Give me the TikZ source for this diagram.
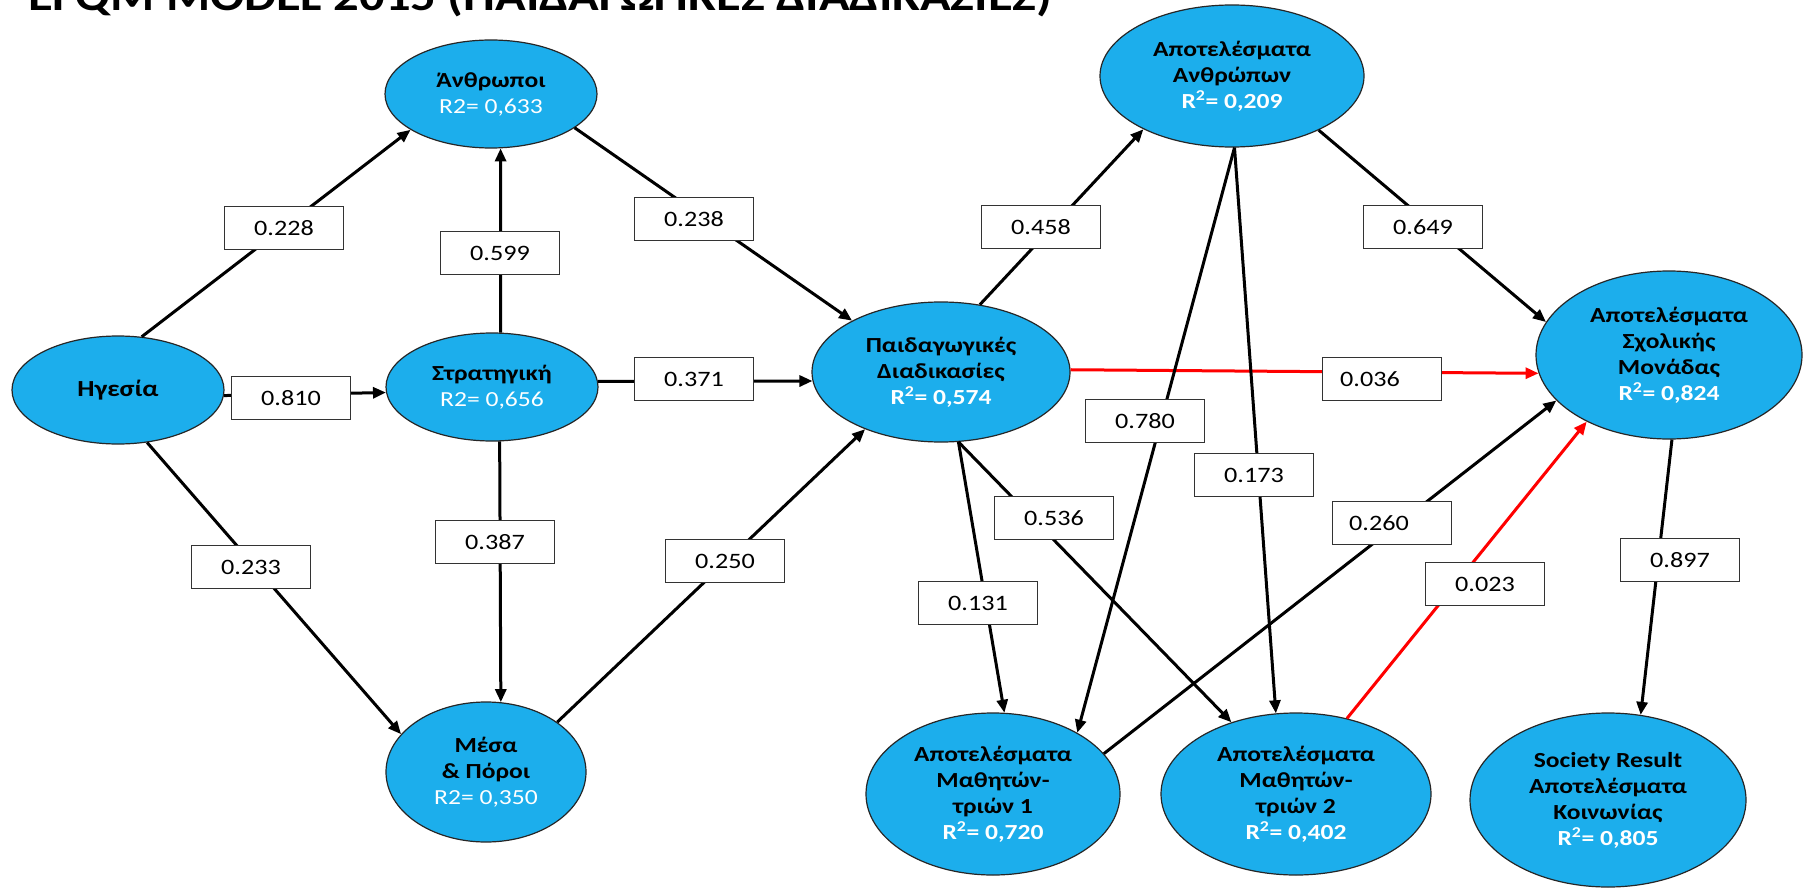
\documentclass[tikz,border=0pt]{standalone}
\usepackage{fontspec}
\setmainfont{Carlito}[FakeStretch=1.19]
\usetikzlibrary{arrows.meta,shapes.geometric}
\definecolor{nodeblue}{RGB}{28,174,236}
\definecolor{edgered}{RGB}{255,0,0}
\newcommand{\wtxt}[1]{\textcolor{white}{#1}}
\begin{document}
\begin{tikzpicture}[x=1pt,y=-1pt,
  cons/.style={ellipse, draw=black!85, line width=1.2pt, fill=nodeblue, inner sep=0pt, align=center, font=\fontsize{21.5}{26}\selectfont},
  lbl/.style={rectangle, draw=black!80, line width=1.5pt, fill=white, minimum width=119pt, minimum height=43pt, inner sep=0pt, font=\fontsize{22}{26}\selectfont},
  conn/.style={draw=black, line width=3pt, -{Triangle[length=13pt,width=11pt]}},
  redconn/.style={conn, draw=edgered, -{Triangle[length=13pt,width=11pt,fill=edgered]}}
]
\useasboundingbox (0,0) rectangle (1807,888);
\fill[white] (0,0) rectangle (1807,888);
\clip (0,0) rectangle (1807,888);

\node[anchor=base west, inner sep=0pt, font=\fontsize{42.5}{50}\selectfont\bfseries] (title) at (28,10.5) {EFQM MODEL 2015 (ΠΑΙΔΑΓΩΓΙΚΕΣ ΔΙΑΔΙΚΑΣΙΕΣ)};

% constructs
\node[cons, minimum width=212pt, minimum height=108pt] (an) at (491,94) {\textbf{Άνθρωποι}\\\wtxt{R2= 0,633}};
\node[cons, minimum width=212pt, minimum height=108pt, font=\fontsize{23}{26}\selectfont] (hg) at (118,390) {\textbf{Ηγεσία}};
\node[cons, minimum width=212pt, minimum height=108pt] (st) at (492,387) {\textbf{Στρατηγική}\\\wtxt{R2= 0,656}};
\node[cons, minimum width=200pt, minimum height=140pt] (ms) at (486,772) {\textbf{Μέσα}\\\textbf{\& Πόροι}\\\wtxt{R2= 0,350}};
\node[cons, minimum width=258pt, minimum height=140pt] (pd) at (941,372) {\textbf{Παιδαγωγικές}\\\textbf{Διαδικασίες}\\\wtxt{\textbf{R\textsuperscript{2}= 0,574}}};
\node[cons, minimum width=264pt, minimum height=142pt] (aa) at (1232,76) {\textbf{Αποτελέσματα}\\\textbf{Ανθρώπων}\\\wtxt{\textbf{R\textsuperscript{2}= 0,209}}};
\node[cons, minimum width=266pt, minimum height=168pt] (sx) at (1669,355) {\textbf{Αποτελέσματα}\\\textbf{Σχολικής}\\\textbf{Μονάδας}\\\wtxt{\textbf{R\textsuperscript{2}= 0,824}}};
\node[cons, minimum width=254pt, minimum height=162pt] (m1) at (993,794) {\textbf{Αποτελέσματα}\\\textbf{Μαθητών-}\\\textbf{τριών 1}\\\wtxt{\textbf{R\textsuperscript{2}= 0,720}}};
\node[cons, minimum width=270pt, minimum height=162pt] (m2) at (1296,794) {\textbf{Αποτελέσματα}\\\textbf{Μαθητών-}\\\textbf{τριών 2}\\\wtxt{\textbf{R\textsuperscript{2}= 0,402}}};
\node[cons, minimum width=276pt, minimum height=174pt] (so) at (1608,800) {\textbf{Society Result}\\\textbf{Αποτελέσματα}\\\textbf{Κοινωνίας}\\\wtxt{\textbf{R\textsuperscript{2}= 0,805}}};

% paths
\draw[conn] (hg.66) -- (an.204);
\draw[conn] (hg.357) -- (st.183);
\draw[conn] (hg.299) -- (ms.156);
\draw[conn] (st.81.6) -- (an.280);
\draw[conn] (st.278) -- (ms.78.5);
\draw[conn] (an.338) -- (pd.150.4);
\draw[conn] (st.3.3) -- (pd.184);
\draw[conn] (ms.35) -- (pd.217);
\draw[conn] (pd.60.8) -- (aa.211);
\draw[redconn] (pd.1.8) -- (sx.188.7);
\draw[conn] (aa.328.6) -- (sx.165);
\draw[conn] (aa.272.5) -- (m1.36.7);
\draw[conn] (aa.272.5) -- (m2.104.6);
\draw[conn] (pd.284) -- (m1.82.6);
\draw[conn] (pd.284) -- (m2.132);
\draw[conn] (m1.20.6) -- (sx.202.6);
\draw[redconn] (m2.56.7) -- (sx.219);
\draw[conn] (sx.272.7) -- (so.69);

% coefficients
\node[lbl] (l228) at (284,228) {0.228};
\node[lbl] (l810) at (291,398) {0.810};
\node[lbl] (l233) at (251,567) {0.233};
\node[lbl] (l599) at (500,253) {0.599};
\node[lbl] (l387) at (495,542) {0.387};
\node[lbl] (l238) at (694,219) {0.238};
\node[lbl] (l371) at (694,379) {0.371};
\node[lbl] (l250) at (725,561) {0.250};
\node[lbl] (l458) at (1041,227) {0.458};
\node[lbl] (l036) at (1382,379) {\hspace*{-24pt}0.036};
\node[lbl] (l649) at (1423,227) {0.649};
\node[lbl] (l780) at (1145,421) {0.780};
\node[lbl] (l173) at (1254,475) {0.173};
\node[lbl] (l131) at (978,603) {0.131};
\node[lbl] (l536) at (1054,518) {0.536};
\node[lbl] (l260) at (1392,523) {\hspace*{-26pt}0.260};
\node[lbl] (l023) at (1485,584) {0.023};
\node[lbl] (l897) at (1680,560) {0.897};
\end{tikzpicture}
\end{document}
